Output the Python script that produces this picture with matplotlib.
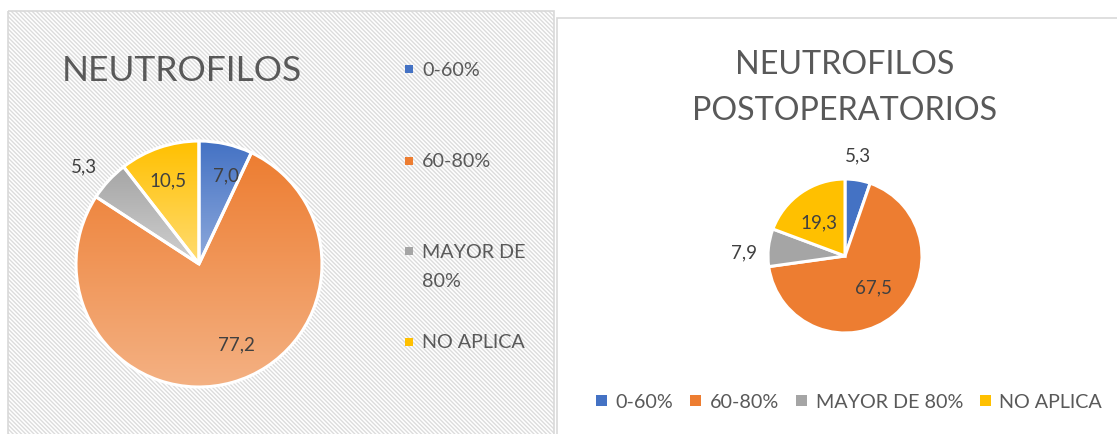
import textwrap
import numpy as np
import matplotlib
matplotlib.use("Agg")
import matplotlib.pyplot as plt
from matplotlib.patches import Rectangle
from matplotlib.colors import LinearSegmentedColormap

# ---------------- data ----------------
categories = ["0-60%", "60-80%", "MAYOR DE 80%", "NO APLICA"]
neutrofilos = [7.0, 77.2, 5.3, 10.5]
neutrofilos_post = [5.3, 67.5, 7.9, 19.3]
title_left = "NEUTROFILOS"
title_right = "NEUTROFILOS\nPOSTOPERATORIOS"

# ---------------- style ----------------
FONT = ["Lato", "DejaVu Sans"]
plt.rcParams["font.family"] = FONT
plt.rcParams["hatch.linewidth"] = 1.0
TXT = "#595959"
LBL = "#404040"
solid = ["#4472C4", "#ED7D31", "#A5A5A5", "#FFC000"]
light = ["#8FAADC", "#F4B183", "#D0D0D0", "#FFDC73"]
FS = 14.2

W, H = 1117, 435
fig = plt.figure(figsize=(W / 100, H / 100), dpi=100)

# background axes in pixel coordinates
bg = fig.add_axes([0, 0, 1, 1])
bg.set_xlim(0, W)
bg.set_ylim(H, 0)
bg.axis("off")

# left chart area (hatched)
bg.add_patch(Rectangle((8, 12), 546, 440, facecolor="white", edgecolor="#dcdcdc",
                       hatch="\\" * 8, linewidth=0, zorder=0))
bg.add_patch(Rectangle((8, 12), 546, 440, facecolor="none", edgecolor="#d9d9d9",
                       linewidth=1.2, zorder=1))
# right chart area
bg.add_patch(Rectangle((557, 19), 580, 440, facecolor="white", edgecolor="#d9d9d9",
                       linewidth=1.2, zorder=1))

# titles
bg.text(62, 81, title_left, fontsize=25.5, color=TXT, ha="left", va="baseline", zorder=3)
lines = title_right.split("\n")
for k, ln in enumerate(lines):
    bg.text(845, 74 + 46 * k, ln, fontsize=23.2, color=TXT, ha="center", va="baseline", zorder=3)

# left legend (vertical, manual layout)
leg_y = [70, 162, 252, 343]
for i, cat in enumerate(categories):
    bg.add_patch(Rectangle((405, leg_y[i] - 4), 8, 8, facecolor=solid[i], edgecolor="none", zorder=3))
    for k, ln in enumerate(textwrap.wrap(cat, 9)):
        bg.text(422, leg_y[i] + 30 * k, ln, fontsize=FS, color=TXT, ha="left", va="center", zorder=3)

# right legend (horizontal)
handles = [Rectangle((0, 0), 1, 1, facecolor=c, edgecolor="none") for c in solid]
leg = bg.legend(handles, categories, loc="center", bbox_to_anchor=(849 / W, 1 - 403 / H),
                bbox_transform=fig.transFigure, ncol=4, frameon=False, fontsize=FS,
                handlelength=0.55, handleheight=0.55, handletextpad=0.45, columnspacing=0.85)
for t in leg.get_texts():
    t.set_color(TXT)


def pie_axes(cx, cy, r, L):
    half = r * L
    ax = fig.add_axes([(cx - half) / W, (H - cy - half) / H, 2 * half / W, 2 * half / H])
    ax.set_xlim(-L, L)
    ax.set_ylim(-L, L)
    ax.axis("off")
    return ax


def draw_pie(ax, values, gradient, label_r, label_dang, L):
    wedges, _ = ax.pie(values, startangle=90, counterclock=False, radius=1,
                       colors=solid,
                       wedgeprops=dict(edgecolor="white", linewidth=2.2))
    for i, w in enumerate(wedges):
        if gradient:
            ext = w.get_path().get_extents()
            cmap = LinearSegmentedColormap.from_list("g%d" % i, [solid[i], light[i]])
            im = ax.imshow(np.linspace(0, 1, 256)[:, None], cmap=cmap, aspect="auto",
                           extent=[ext.x0, ext.x1, ext.y0, ext.y1], zorder=0.5,
                           interpolation="bilinear")
            im.set_clip_path(w)
            w.set_facecolor("none")
        ang = np.deg2rad((w.theta1 + w.theta2) / 2 + label_dang[i])
        txt = f"{values[i]:.1f}".replace(".", ",")
        ax.text(label_r[i] * np.cos(ang), label_r[i] * np.sin(ang), txt,
                fontsize=13.5, color=LBL, ha="center", va="center", zorder=5)
    ax.set_xlim(-L, L)
    ax.set_ylim(-L, L)
    ax.set_aspect("equal")


axL = pie_axes(199, 265, 123, 1.35)
draw_pie(axL, neutrofilos, True, [0.76, 0.72, 1.23, 0.73], [-4, 9, 2, 1], 1.35)

axR = pie_axes(845, 257, 77, 1.6)
draw_pie(axR, neutrofilos_post, False, [1.33, 0.55, 1.31, 0.56], [2, 3, 4, 3], 1.6)

fig.savefig("out.png", dpi=100)
